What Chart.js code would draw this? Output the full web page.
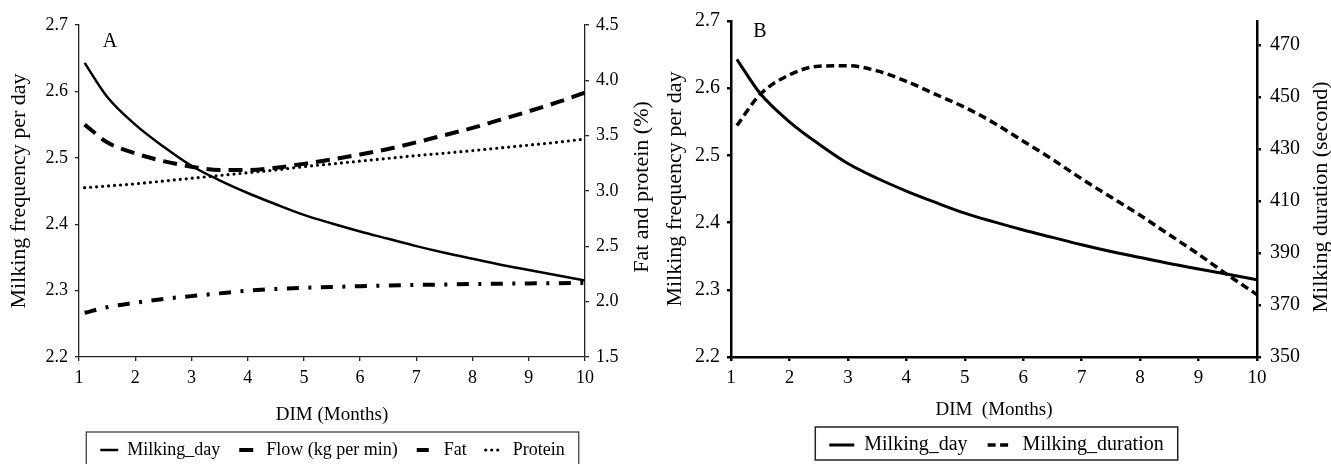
<!DOCTYPE html>
<html>
<head>
<meta charset="utf-8">
<script src="https://cdn.jsdelivr.net/npm/chart.js@4.4.1/dist/chart.umd.min.js"></script>
<style>
  html, body { margin: 0; padding: 0; background: #fff; overflow: hidden; }
  .panel { position: absolute; top: 0; }
  #wrapA { left: 0; width: 665px; height: 469px; }
  #wrapB { left: 662px; width: 669px; height: 465px; }
</style>
</head>
<body>
<div class="panel" id="wrapA"><canvas id="chartA"></canvas></div>
<div class="panel" id="wrapB"><canvas id="chartB"></canvas></div>
<script>
// months in milk (DIM) where the curves were read
const months = [1.1, 1.5, 2, 2.5, 3, 3.5, 4, 4.5, 5, 5.5, 6, 6.5, 7, 7.5, 8, 8.5, 9, 9.5, 10];

// left axis (milking frequency per day)
const milkingDay = [2.643, 2.592, 2.550, 2.517, 2.488, 2.466, 2.447, 2.430, 2.414, 2.401,
  2.389, 2.378, 2.367, 2.357, 2.348, 2.339, 2.331, 2.323, 2.315];

// right axis of panel A
const flow = [3.60, 3.44, 3.34, 3.27, 3.22, 3.19, 3.19, 3.21, 3.245, 3.285,
  3.33, 3.38, 3.44, 3.505, 3.57, 3.645, 3.72, 3.80, 3.89];
const fat = [1.90, 1.95, 1.99, 2.025, 2.05, 2.075, 2.10, 2.115, 2.125, 2.133,
  2.14, 2.146, 2.151, 2.155, 2.159, 2.162, 2.165, 2.167, 2.169];
const protein = [3.03, 3.045, 3.065, 3.09, 3.115, 3.14, 3.165, 3.19, 3.22, 3.245,
  3.27, 3.295, 3.32, 3.342, 3.365, 3.39, 3.415, 3.44, 3.47];

// right axis of panel B (seconds)
const milkingDuration = [439, 451, 458.5, 461.8, 462, 460, 456, 451, 446, 440,
  433, 426, 418.5, 411.5, 404.5, 397, 389.5, 381.5, 374];

// tick labels
const monthTicks = [1, 2, 3, 4, 5, 6, 7, 8, 9, 10];
const freqTicks = [2.2, 2.3, 2.4, 2.5, 2.6, 2.7];
const pctTicks = [1.5, 2.0, 2.5, 3.0, 3.5, 4.0, 4.5];
const durTicks = [350, 370, 390, 410, 430, 450, 470];
const durMax = 479.2;

Chart.defaults.font.family = "'Liberation Serif', 'Times New Roman', serif";
Chart.defaults.color = '#000';

function toPoints(ys) {
  return months.map((m, i) => ({ x: m, y: ys[i] }));
}

function useTicks(list) {
  return (scale) => { scale.ticks = list.map((v) => ({ value: v })); };
}

// legend samples drawn with each dataset's own line style
function lineLabels(chart) {
  return chart.data.datasets.map((ds, i) => ({
    text: ds.label,
    datasetIndex: i,
    hidden: false,
    fillStyle: 'rgba(0,0,0,0)',
    strokeStyle: '#000',
    fontColor: '#000',
    lineWidth: ds.borderWidth,
    lineDash: ds.borderDash || [],
    lineCap: ds.borderCapStyle || 'butt',
    pointStyle: 'line',
  }));
}

// box around the legend items
const legendFrame = {
  id: 'legendFrame',
  afterDraw(chart, args, opts) {
    const boxes = chart.legend.legendHitBoxes;
    if (!boxes || !boxes.length) return;
    const left = Math.min(...boxes.map((b) => b.left));
    const right = Math.max(...boxes.map((b) => b.left + b.width));
    const cy = boxes[0].top + boxes[0].height / 2;
    const ctx = chart.ctx;
    ctx.save();
    ctx.strokeStyle = opts.color;
    ctx.lineWidth = opts.width;
    ctx.strokeRect(left - opts.padX, cy - 18, right - left + opts.padX * 2, 33);
    ctx.restore();
  }
};

// "A" / "B" in the corner of the plot
const panelLabel = {
  id: 'panelLabel',
  afterDraw(chart, args, opts) {
    const ctx = chart.ctx;
    ctx.save();
    ctx.font = opts.size + "px 'Liberation Serif'";
    ctx.fillStyle = '#000';
    ctx.textAlign = 'center';
    ctx.textBaseline = 'middle';
    ctx.fillText(opts.text, chart.chartArea.left + opts.dx, chart.chartArea.top + opts.dy);
    ctx.restore();
  }
};

// right axis title, reading bottom to top like the left one
const rightTitle = {
  id: 'rightTitle',
  afterDraw(chart, args, opts) {
    const ctx = chart.ctx;
    const area = chart.chartArea;
    ctx.save();
    ctx.translate(chart.width - opts.offset, (area.top + area.bottom) / 2 + opts.dy);
    ctx.rotate(-Math.PI / 2);
    ctx.font = opts.size + "px 'Liberation Serif'";
    ctx.fillStyle = '#000';
    ctx.textAlign = 'center';
    ctx.textBaseline = 'middle';
    ctx.fillText(opts.text, 0, 0);
    ctx.restore();
  }
};

function axisStyle(color, width, tickFont, padding) {
  return {
    grid: { drawOnChartArea: false, drawTicks: true, tickLength: 4, color: color, lineWidth: width },
    border: { display: true, color: color, width: width },
    ticks: { font: { size: tickFont }, padding: padding, color: '#000', autoSkip: false, maxRotation: 0 }
  };
}

// Panel A
const styleA = axisStyle('#222', 1.3, 18, 7);
new Chart(document.getElementById('chartA'), {
  type: 'line',
  data: {
    datasets: [
      {
        label: 'Milking_day',
        data: toPoints(milkingDay),
        yAxisID: 'yL',
        borderColor: '#000',
        borderWidth: 2.5,
      },
      {
        label: 'Flow (kg per min)',
        data: toPoints(flow),
        yAxisID: 'yR',
        borderColor: '#000',
        borderWidth: 4,
        borderDash: [14, 8],
      },
      {
        label: 'Fat',
        data: toPoints(fat),
        yAxisID: 'yR',
        borderColor: '#000',
        borderWidth: 4,
        borderDash: [12, 9.5, 3, 9.5],
      },
      {
        label: 'Protein',
        data: toPoints(protein),
        yAxisID: 'yR',
        borderColor: '#000',
        borderWidth: 3.2,
        borderDash: [0, 6],
        borderCapStyle: 'round',
      },
    ],
  },
  options: {
    responsive: true,
    maintainAspectRatio: false,
    animation: false,
    devicePixelRatio: 1,
    layout: { padding: { top: 25, left: 0, right: 0, bottom: 0 } },
    elements: { point: { radius: 0 }, line: { cubicInterpolationMode: 'monotone', fill: false } },
    scales: {
      x: {
        type: 'linear',
        min: 1,
        max: 10,
        afterBuildTicks: useTicks(monthTicks),
        afterFit: (s) => { s.height = 65; },
        grid: styleA.grid,
        border: styleA.border,
        ticks: { ...styleA.ticks, padding: 6 },
        title: { display: true, text: 'DIM (Months)', font: { size: 19, lineHeight: 1 }, padding: { top: 0, bottom: -2.5 } },
      },
      yL: {
        type: 'linear',
        position: 'left',
        min: 2.2,
        max: 2.7,
        afterBuildTicks: useTicks(freqTicks),
        afterFit: (s) => { s.width = 79; },
        grid: styleA.grid,
        border: styleA.border,
        ticks: { ...styleA.ticks, callback: (v) => v.toFixed(1) },
        title: { display: true, text: 'Milking frequency per day', font: { size: 22, lineHeight: 1 }, padding: { top: 8, bottom: 0 } },
      },
      yR: {
        type: 'linear',
        position: 'right',
        min: 1.5,
        max: 4.5,
        afterBuildTicks: useTicks(pctTicks),
        afterFit: (s) => { s.width = 80; },
        grid: styleA.grid,
        border: styleA.border,
        ticks: { ...styleA.ticks, callback: (v) => v.toFixed(1) },
      },
    },
    plugins: {
      tooltip: { enabled: false },
      legend: {
        position: 'bottom',
        labels: {
          usePointStyle: true,
          pointStyle: 'line',
          pointStyleWidth: 18,
          padding: 19,
          color: '#000',
          font: { size: 18 },
          generateLabels: lineLabels,
        },
      },
      legendFrame: { color: '#333', width: 1.2, padX: 14 },
      panelLabel: { text: 'A', dx: 31, dy: 17, size: 20 },
      rightTitle: { text: 'Fat and protein (%)', offset: 23, dy: -4, size: 22 },
    },
  },
  plugins: [legendFrame, panelLabel, rightTitle],
});

// Panel B
const styleB = axisStyle('#000', 2.5, 20, 7);
new Chart(document.getElementById('chartB'), {
  type: 'line',
  data: {
    datasets: [
      {
        label: 'Milking_day',
        data: toPoints(milkingDay),
        yAxisID: 'yL',
        borderColor: '#000',
        borderWidth: 3,
      },
      {
        label: 'Milking_duration',
        data: toPoints(milkingDuration),
        yAxisID: 'yR',
        borderColor: '#000',
        borderWidth: 3.5,
        borderDash: [8, 4.5],
      },
    ],
  },
  options: {
    responsive: true,
    maintainAspectRatio: false,
    animation: false,
    devicePixelRatio: 1,
    layout: { padding: { top: 21, left: 0, right: 0, bottom: 0 } },
    elements: { point: { radius: 0 }, line: { cubicInterpolationMode: 'monotone', fill: false } },
    scales: {
      x: {
        type: 'linear',
        min: 1,
        max: 10,
        afterBuildTicks: useTicks(monthTicks),
        afterFit: (s) => { s.height = 58; },
        grid: styleB.grid,
        border: styleB.border,
        ticks: { ...styleB.ticks, font: { size: 19 }, padding: 6 },
        title: { display: true, text: 'DIM  (Months)', font: { size: 19, lineHeight: 1 }, padding: { top: 0, bottom: -4.5 } },
      },
      yL: {
        type: 'linear',
        position: 'left',
        min: 2.2,
        max: 2.7,
        afterBuildTicks: useTicks(freqTicks),
        afterFit: (s) => { s.width = 69; },
        grid: styleB.grid,
        border: styleB.border,
        ticks: { ...styleB.ticks, callback: (v) => v.toFixed(1) },
        title: { display: true, text: 'Milking frequency per day', font: { size: 22, lineHeight: 1 }, padding: { top: 2, bottom: 0 } },
      },
      yR: {
        type: 'linear',
        position: 'right',
        min: durTicks[0],
        max: durMax,
        afterBuildTicks: useTicks(durTicks),
        afterFit: (s) => { s.width = 74; },
        grid: styleB.grid,
        border: styleB.border,
        ticks: { ...styleB.ticks, padding: 9 },
      },
    },
    plugins: {
      tooltip: { enabled: false },
      legend: {
        position: 'bottom',
        labels: {
          usePointStyle: true,
          pointStyle: 'line',
          pointStyleWidth: 25,
          padding: 20,
          color: '#000',
          font: { size: 20 },
          generateLabels: lineLabels,
        },
      },
      legendFrame: { color: '#222', width: 1.5, padX: 14 },
      panelLabel: { text: 'B', dx: 29, dy: 11, size: 20 },
      rightTitle: { text: 'Milking duration (second)', offset: 10, dy: 8, size: 22 },
    },
  },
  plugins: [legendFrame, panelLabel, rightTitle],
});
</script>
</body>
</html>
